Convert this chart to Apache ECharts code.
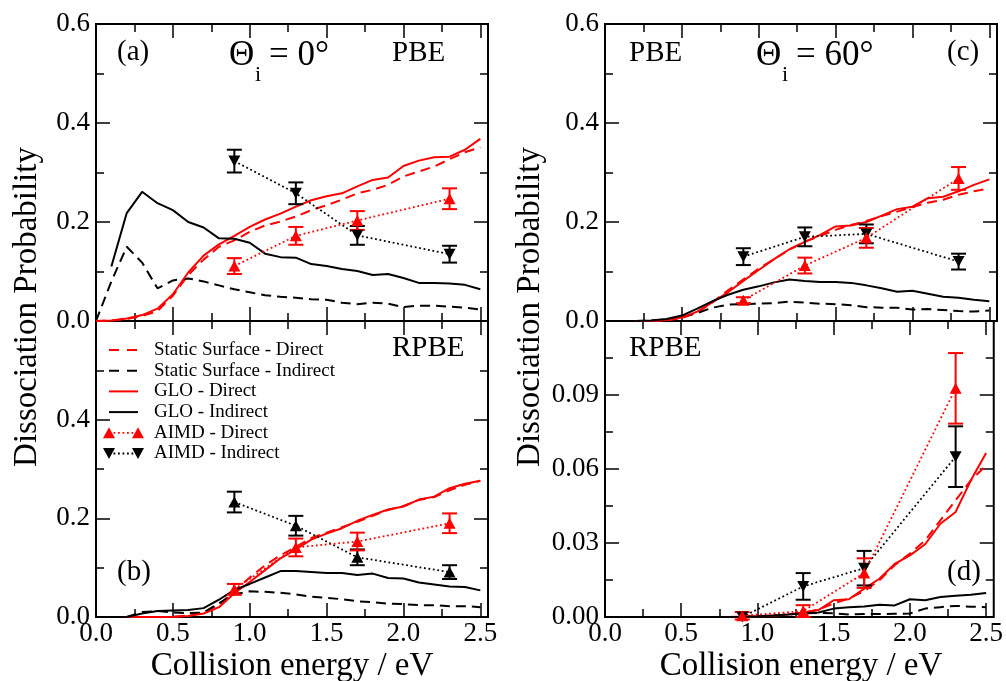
<!DOCTYPE html>
<html>
<head>
<meta charset="utf-8">
<script src="https://cdn.jsdelivr.net/npm/echarts@6/dist/echarts.min.js"></script>
<style>
  html, body { margin: 0; padding: 0; background: #ffffff; }
  #chart { width: 1006px; height: 681px; }
</style>
</head>
<body>
<div id="chart"></div>
<script>
// ---------- collision energies (eV) ----------
const energyA = [0.0, 0.1, 0.2, 0.3, 0.4, 0.5, 0.6, 0.7, 0.8, 0.9, 1.0, 1.1, 1.2, 1.3, 1.4, 1.5, 1.6, 1.7, 1.8, 1.9, 2.0, 2.1, 2.2, 2.3, 2.4, 2.5];
const energyGloIndirectA = [0.1, 0.2, 0.3, 0.4, 0.5, 0.6, 0.7, 0.8, 0.9, 1.0, 1.1, 1.2, 1.3, 1.4, 1.5, 1.6, 1.7, 1.8, 1.9, 2.0, 2.1, 2.2, 2.3, 2.4, 2.5];
const energyB = [0.2, 0.3, 0.4, 0.5, 0.6, 0.7, 0.8, 0.9, 1.0, 1.1, 1.2, 1.3, 1.4, 1.5, 1.6, 1.7, 1.8, 1.9, 2.0, 2.1, 2.2, 2.3, 2.4, 2.5];
const energyC = [0.2, 0.3, 0.4, 0.5, 0.6, 0.7, 0.8, 0.9, 1.0, 1.1, 1.2, 1.3, 1.4, 1.5, 1.6, 1.7, 1.8, 1.9, 2.0, 2.1, 2.2, 2.3, 2.4, 2.5];
const energyD = [0.8, 0.9, 1.0, 1.1, 1.2, 1.3, 1.4, 1.5, 1.6, 1.7, 1.8, 1.9, 2.0, 2.1, 2.2, 2.3, 2.4, 2.5];
const energyAimd = [0.9, 1.3, 1.7, 2.3];

// ---------- (a) PBE, normal incidence ----------
const staticDirectA   = [0, 0.001, 0.004, 0.010, 0.020, 0.051, 0.093, 0.124, 0.150, 0.163, 0.180, 0.193, 0.201, 0.211, 0.224, 0.234, 0.245, 0.258, 0.265, 0.275, 0.292, 0.302, 0.312, 0.327, 0.341, 0.351];
const staticIndirectA = [0, 0.080, 0.150, 0.118, 0.066, 0.082, 0.086, 0.080, 0.072, 0.064, 0.058, 0.052, 0.049, 0.047, 0.044, 0.043, 0.037, 0.034, 0.037, 0.035, 0.028, 0.031, 0.031, 0.029, 0.027, 0.023];
const gloDirectA      = [0, 0.001, 0.005, 0.012, 0.025, 0.054, 0.098, 0.132, 0.155, 0.172, 0.190, 0.205, 0.217, 0.231, 0.244, 0.252, 0.258, 0.272, 0.285, 0.290, 0.313, 0.324, 0.331, 0.332, 0.346, 0.368];
const gloIndirectA    = [0.110, 0.218, 0.261, 0.238, 0.224, 0.200, 0.189, 0.167, 0.166, 0.158, 0.136, 0.129, 0.128, 0.115, 0.111, 0.105, 0.101, 0.093, 0.095, 0.087, 0.077, 0.077, 0.076, 0.073, 0.064];
const aimdDirectA      = [0.111, 0.172, 0.203, 0.247];
const aimdDirectErrA   = [0.016, 0.018, 0.019, 0.021];
const aimdIndirectA    = [0.323, 0.258, 0.173, 0.135];
const aimdIndirectErrA = [0.023, 0.022, 0.019, 0.017];

// ---------- (b) RPBE, normal incidence ----------
const staticDirectB   = [0, 0, 0, 0, 0.003, 0.009, 0.025, 0.053, 0.080, 0.105, 0.125, 0.142, 0.160, 0.171, 0.182, 0.193, 0.205, 0.217, 0.225, 0.237, 0.243, 0.257, 0.268, 0.276];
const staticIndirectB = [0, 0.010, 0.012, 0.009, 0.008, 0.009, 0.028, 0.046, 0.052, 0.051, 0.049, 0.046, 0.041, 0.039, 0.036, 0.032, 0.030, 0.027, 0.026, 0.024, 0.024, 0.022, 0.022, 0.020];
const gloDirectB      = [0, 0, 0, 0.0005, 0.002, 0.007, 0.020, 0.048, 0.071, 0.095, 0.119, 0.137, 0.157, 0.169, 0.180, 0.195, 0.207, 0.218, 0.224, 0.238, 0.244, 0.261, 0.270, 0.276];
const gloIndirectB    = [0, 0.007, 0.012, 0.013, 0.014, 0.018, 0.035, 0.055, 0.067, 0.080, 0.093, 0.093, 0.091, 0.089, 0.089, 0.085, 0.088, 0.079, 0.078, 0.070, 0.066, 0.062, 0.061, 0.054];
const aimdDirectB      = [0.056, 0.141, 0.153, 0.190];
const aimdDirectErrB   = [0.011, 0.018, 0.018, 0.020];
const aimdIndirectB    = [0.233, 0.185, 0.121, 0.091];
const aimdIndirectErrB = [0.021, 0.020, 0.016, 0.014];

// ---------- (c) PBE, 60 degree incidence ----------
const staticDirectC   = [0, 0, 0.001, 0.006, 0.017, 0.038, 0.062, 0.084, 0.106, 0.125, 0.144, 0.160, 0.172, 0.184, 0.194, 0.202, 0.212, 0.221, 0.230, 0.239, 0.245, 0.255, 0.262, 0.268];
const staticIndirectC = [0, 0.001, 0.003, 0.008, 0.016, 0.027, 0.033, 0.034, 0.035, 0.036, 0.039, 0.037, 0.035, 0.034, 0.032, 0.028, 0.027, 0.027, 0.023, 0.024, 0.022, 0.020, 0.019, 0.021];
const gloDirectC      = [0, 0, 0.002, 0.007, 0.019, 0.038, 0.058, 0.081, 0.103, 0.125, 0.145, 0.160, 0.174, 0.191, 0.193, 0.200, 0.213, 0.226, 0.231, 0.248, 0.251, 0.262, 0.275, 0.286];
const gloIndirectC    = [0, 0.001, 0.004, 0.011, 0.025, 0.040, 0.053, 0.063, 0.070, 0.078, 0.084, 0.081, 0.079, 0.079, 0.077, 0.072, 0.066, 0.059, 0.061, 0.055, 0.049, 0.047, 0.043, 0.040];
const aimdDirectC      = [0.042, 0.112, 0.168, 0.288];
const aimdDirectErrC   = [0.006, 0.016, 0.020, 0.023];
const aimdIndirectC    = [0.130, 0.170, 0.176, 0.120];
const aimdIndirectErrC = [0.017, 0.019, 0.019, 0.016];

// ---------- (d) RPBE, 60 degree incidence ----------
const staticDirectD   = [0, 0.0001, 0.0003, 0.0005, 0.0010, 0.0017, 0.0030, 0.0055, 0.0075, 0.0105, 0.0149, 0.0210, 0.0257, 0.0310, 0.0392, 0.0473, 0.0554, 0.0615];
const staticIndirectD = [0, 0, 0.0002, 0.0004, 0.0010, 0.0015, 0.0016, 0.0015, 0.0010, 0.0012, 0.0012, 0.0013, 0.0014, 0.0034, 0.0040, 0.0045, 0.0042, 0.0040];
const gloDirectD      = [0, 0.0001, 0.0003, 0.0006, 0.0010, 0.0018, 0.0028, 0.0068, 0.0072, 0.0115, 0.0155, 0.0215, 0.0250, 0.0295, 0.0378, 0.0426, 0.0554, 0.0665];
const gloIndirectD    = [0, 0.0001, 0.0003, 0.0006, 0.0010, 0.0015, 0.0018, 0.0034, 0.0040, 0.0043, 0.0050, 0.0047, 0.0072, 0.0068, 0.0081, 0.0086, 0.0090, 0.0097];
const aimdDirectD      = [0.0005, 0.0024, 0.0178, 0.0927];
const aimdDirectErrD   = [0.0015, 0.0024, 0.0060, 0.0143];
const aimdIndirectD    = [0, 0.0124, 0.0198, 0.0650];
const aimdIndirectErrD = [0, 0.0054, 0.0070, 0.0123];

// ---------- tick values ----------
const energyTicks      = [0, 0.5, 1.0, 1.5, 2.0, 2.5];
const energyMinorTicks = [0.25, 0.75, 1.25, 1.75, 2.25];
const probTicks        = [0, 0.2, 0.4, 0.6];
const probMinorTicks   = [0.1, 0.3, 0.5];
const probLabelsUpper  = [0, 0.2, 0.4, 0.6];
const probLabelsLower  = [0, 0.2, 0.4];
const smallTicks       = [0, 0.03, 0.06, 0.09, 0.12];
const smallMinorTicks  = [0.015, 0.045, 0.075, 0.105];
const smallLabels      = [0, 0.03, 0.06, 0.09];

// ---------- drawing ----------
const SERIF = 'Liberation Serif';
const RED = '#ff0000';
const BLACK = '#000000';
const E_MAX = 2.55;

const panels = [
  { rect: { left: 96,  top: 24,  width: 392, height: 297 }, yMax: 0.6,  yTicks: probTicks,  yMinor: probMinorTicks,  yLabels: probLabelsUpper, digits: 1, xLabels: null,
    energy: energyA, energyGloInd: energyGloIndirectA, sD: staticDirectA, sI: staticIndirectA, gD: gloDirectA, gI: gloIndirectA,
    aD: aimdDirectA, aDe: aimdDirectErrA, aI: aimdIndirectA, aIe: aimdIndirectErrA, indirectUp: false },
  { rect: { left: 96,  top: 321, width: 392, height: 296 }, yMax: 0.6,  yTicks: probTicks,  yMinor: probMinorTicks,  yLabels: probLabelsLower, digits: 1, xLabels: energyTicks,
    energy: energyB, energyGloInd: energyB, sD: staticDirectB, sI: staticIndirectB, gD: gloDirectB, gI: gloIndirectB,
    aD: aimdDirectB, aDe: aimdDirectErrB, aI: aimdIndirectB, aIe: aimdIndirectErrB, indirectUp: true },
  { rect: { left: 605, top: 24,  width: 392, height: 297 }, yMax: 0.6,  yTicks: probTicks,  yMinor: probMinorTicks,  yLabels: probLabelsUpper, digits: 1, xLabels: null,
    energy: energyC, energyGloInd: energyC, sD: staticDirectC, sI: staticIndirectC, gD: gloDirectC, gI: gloIndirectC,
    aD: aimdDirectC, aDe: aimdDirectErrC, aI: aimdIndirectC, aIe: aimdIndirectErrC, indirectUp: false },
  { rect: { left: 605, top: 321, width: 392, height: 296 }, yMax: 0.12, yTicks: smallTicks, yMinor: smallMinorTicks, yLabels: smallLabels,     digits: 2, xLabels: energyTicks,
    energy: energyD, energyGloInd: energyD, sD: staticDirectD, sI: staticIndirectD, gD: gloDirectD, gI: gloIndirectD,
    aD: aimdDirectD, aDe: aimdDirectErrD, aI: aimdIndirectD, aIe: aimdIndirectErrD, indirectUp: false }
];

const tickLine = { color: BLACK, width: 1.5 };
const labelFont = { color: BLACK, fontFamily: SERIF, fontSize: 27 };
const hiddenLine = { show: false, onZero: false };
const MAJOR_LEN = 14, MINOR_LEN = 8;

const grids = [], xAxes = [], yAxes = [], series = [];

function pairs(xs, ys) { return xs.map((x, k) => [x, ys[k]]); }
function triples(xs, ys, es) { return xs.map((x, k) => [x, ys[k], es[k]]); }

function errorBar(params, api) {
  const x = api.value(0), y = api.value(1), e = api.value(2);
  if (!e) return null;
  const hi = api.coord([x, y + e]);
  const lo = api.coord([x, y - e]);
  const half = 7.5;
  const style = { stroke: api.visual('color'), lineWidth: 2 };
  return {
    type: 'group',
    children: [
      { type: 'line', shape: { x1: hi[0], y1: hi[1], x2: lo[0], y2: lo[1] }, style },
      { type: 'line', shape: { x1: hi[0] - half, y1: hi[1], x2: hi[0] + half, y2: hi[1] }, style },
      { type: 'line', shape: { x1: lo[0] - half, y1: lo[1], x2: lo[0] + half, y2: lo[1] }, style }
    ]
  };
}

panels.forEach((p, gi) => {
  grids.push(Object.assign({ show: true, borderColor: BLACK, borderWidth: 2, backgroundColor: 'transparent' }, p.rect));

  const xBase = { gridIndex: gi, type: 'value', min: 0, max: E_MAX, splitLine: { show: false }, axisLine: hiddenLine };
  const xLabel = p.xLabels
    ? Object.assign({ show: true, customValues: p.xLabels, margin: 3, formatter: v => v.toFixed(1) }, labelFont)
    : { show: false };
  xAxes.push(Object.assign({}, xBase, { position: 'bottom', axisTick: { inside: true, length: MAJOR_LEN, customValues: energyTicks, lineStyle: tickLine }, axisLabel: xLabel }));
  xAxes.push(Object.assign({}, xBase, { position: 'bottom', axisTick: { inside: true, length: MINOR_LEN, customValues: energyMinorTicks, lineStyle: tickLine }, axisLabel: { show: false } }));
  xAxes.push(Object.assign({}, xBase, { position: 'top', axisTick: { inside: true, length: MAJOR_LEN, customValues: energyTicks, lineStyle: tickLine }, axisLabel: { show: false } }));
  xAxes.push(Object.assign({}, xBase, { position: 'top', axisTick: { inside: true, length: MINOR_LEN, customValues: energyMinorTicks, lineStyle: tickLine }, axisLabel: { show: false } }));

  const yBase = { gridIndex: gi, type: 'value', min: 0, max: p.yMax, splitLine: { show: false }, axisLine: hiddenLine };
  const yLabel = Object.assign({ show: true, customValues: p.yLabels, margin: 6, formatter: v => v.toFixed(p.digits) }, labelFont);
  yAxes.push(Object.assign({}, yBase, { position: 'left', axisTick: { inside: true, length: MAJOR_LEN, customValues: p.yTicks, lineStyle: tickLine }, axisLabel: yLabel }));
  yAxes.push(Object.assign({}, yBase, { position: 'left', axisTick: { inside: true, length: MINOR_LEN, customValues: p.yMinor, lineStyle: tickLine }, axisLabel: { show: false } }));
  yAxes.push(Object.assign({}, yBase, { position: 'right', axisTick: { inside: true, length: MAJOR_LEN, customValues: p.yTicks, lineStyle: tickLine }, axisLabel: { show: false } }));
  yAxes.push(Object.assign({}, yBase, { position: 'right', axisTick: { inside: true, length: MINOR_LEN, customValues: p.yMinor, lineStyle: tickLine }, axisLabel: { show: false } }));

  const ax = { xAxisIndex: gi * 4, yAxisIndex: gi * 4 };
  const curve = (name, xs, ys, color, dashed) => Object.assign({
    name, type: 'line', data: pairs(xs, ys), symbol: 'none', z: 3,
    lineStyle: { color, width: 2, type: dashed ? [10, 6] : 'solid' },
    itemStyle: { color }, emphasis: { disabled: true }
  }, ax);

  series.push(curve('Static Surface - Direct', p.energy, p.sD, RED, true));
  series.push(curve('Static Surface - Indirect', p.energy, p.sI, BLACK, true));
  series.push(curve('GLO - Direct', p.energy, p.gD, RED, false));
  series.push(curve('GLO - Indirect', p.energyGloInd, p.gI, BLACK, false));

  const aimd = (name, ys, color, up) => Object.assign({
    name, type: 'line', data: pairs(energyAimd, ys), symbol: 'triangle', symbolSize: [12, 11],
    symbolRotate: up ? 0 : 180, showSymbol: true, z: 5, clip: false,
    lineStyle: { color, width: 1.8, type: [1.8, 2.7] },
    itemStyle: { color }, emphasis: { disabled: true }
  }, ax);
  const bars = (name, ys, es, color) => Object.assign({
    name, type: 'custom', data: triples(energyAimd, ys, es), renderItem: errorBar,
    encode: { x: 0, y: 1 }, itemStyle: { color }, z: 4, clip: false
  }, ax);

  series.push(bars('AIMD - Indirect error', p.aI, p.aIe, BLACK));
  series.push(bars('AIMD - Direct error', p.aD, p.aDe, RED));
  series.push(aimd('AIMD - Indirect', p.aI, BLACK, p.indirectUp));
  series.push(aimd('AIMD - Direct', p.aD, RED, true));
});

// ---------- text and legend ----------
function label(text, x, y, size, align) {
  return { type: 'text', x, y, z: 20, style: { text, fill: BLACK, font: size + 'px "' + SERIF + '"', align: align || 'left', verticalAlign: 'middle' } };
}

const graphics = [
  // axis titles
  { type: 'text', x: 27, y: 307, rotation: Math.PI / 2, z: 20, style: { text: 'Dissociation Probability', fill: BLACK, font: '33px "' + SERIF + '"', align: 'center', verticalAlign: 'middle' } },
  { type: 'text', x: 530, y: 307, rotation: Math.PI / 2, z: 20, style: { text: 'Dissociation Probability', fill: BLACK, font: '33px "' + SERIF + '"', align: 'center', verticalAlign: 'middle' } },
  label('Collision energy / eV', 292, 666, 33, 'center'),
  label('Collision energy / eV', 801, 666, 33, 'center'),
  // panel tags
  label('(a)', 117, 52, 29), label('PBE', 392, 53, 29),
  label('(b)', 117, 572, 29), label('RPBE', 392, 348, 29),
  label('(c)', 947, 52, 29), label('PBE', 629, 53, 29),
  label('(d)', 947, 572, 29), label('RPBE', 629, 348, 29),
  // incidence angles
  label('\u0398', 229, 56, 35), label('i', 255, 75, 22), label('= 0\u00B0', 269, 56, 35),
  label('\u0398', 756, 56, 35), label('i', 782, 75, 22), label('= 60\u00B0', 796, 56, 35)
];

const legendRows = [
  { text: 'Static Surface - Direct',   color: RED,   kind: 'dash' },
  { text: 'Static Surface - Indirect', color: BLACK, kind: 'dash' },
  { text: 'GLO - Direct',              color: RED,   kind: 'solid' },
  { text: 'GLO - Indirect',            color: BLACK, kind: 'solid' },
  { text: 'AIMD - Direct',             color: RED,   kind: 'up' },
  { text: 'AIMD - Indirect',           color: BLACK, kind: 'down' }
];
const legendTop = 350, legendStep = 20.7, sampleX0 = 109, sampleX1 = 138, legendTextX = 154;

function triangle(cx, cy, up, color) {
  const h = 5.5, w = 6;
  const pts = up ? [[cx, cy - h], [cx + w, cy + h], [cx - w, cy + h]] : [[cx, cy + h], [cx + w, cy - h], [cx - w, cy - h]];
  return { type: 'polygon', z: 21, shape: { points: pts }, style: { fill: color } };
}

legendRows.forEach((row, k) => {
  const y = legendTop + k * legendStep;
  if (row.kind === 'dash' || row.kind === 'solid') {
    graphics.push({ type: 'line', z: 20, shape: { x1: sampleX0, y1: y, x2: sampleX1, y2: y },
      style: { stroke: row.color, lineWidth: 2, lineDash: row.kind === 'dash' ? [10, 8] : null } });
  } else {
    graphics.push({ type: 'line', z: 20, shape: { x1: sampleX0, y1: y, x2: sampleX1, y2: y },
      style: { stroke: row.color, lineWidth: 1.8, lineDash: [1.8, 2.7] } });
    graphics.push(triangle(sampleX0, y, row.kind === 'up', row.color));
    graphics.push(triangle(sampleX1, y, row.kind === 'up', row.color));
  }
  graphics.push(label(row.text, legendTextX, y, 19));
});

const chart = echarts.init(document.getElementById('chart'), null, { renderer: 'canvas' });
chart.setOption({
  animation: false,
  backgroundColor: '#ffffff',
  grid: grids,
  xAxis: xAxes,
  yAxis: yAxes,
  series,
  graphic: graphics
});
</script>
</body>
</html>
